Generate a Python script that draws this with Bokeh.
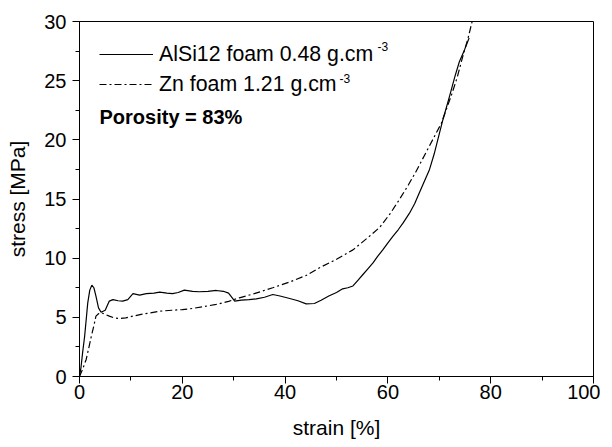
from bokeh.plotting import figure
from bokeh.models import Range1d, Legend, LegendItem, Label, FixedTicker
from bokeh.embed import file_html
from bokeh.resources import INLINE

# AlSi12 foam 0.48 g.cm-3 (solid line)
strain_al = [0, 0.3, 0.6, 1.0, 1.3, 1.6, 2.0, 2.4, 2.8, 3.2,
             3.7, 4.2, 5.0, 5.8, 6.5, 7.5, 8.4, 9.4, 10.4, 11.7,
             13.0, 14.5, 15.6, 17.0, 18.1, 19.2, 20.4, 22.0, 23.3, 25.0,
             26.6, 28.0, 29.0, 30.2, 31.5, 33.0, 34.4, 36.0, 37.6, 39.0,
             40.9, 42.5, 44.1, 45.7, 47.0, 48.5, 50.0, 51.2, 52.2, 53.2,
             54.2, 55.1, 56.1, 57.1, 58.0, 59.0, 60.0, 61.0, 62.0, 63.0,
             64.2, 65.2, 66.1, 67.1, 68.1, 69.0, 69.7, 70.7, 72.0, 73.0,
             73.9, 74.9, 75.8]
stress_al = [0, 0.8, 2.0, 3.4, 4.8, 6.2, 7.3, 7.72, 7.5, 6.8,
             5.8, 5.43, 5.6, 6.37, 6.5, 6.4, 6.37, 6.5, 7.0, 6.88,
             7.0, 7.05, 7.13, 7.05, 7.0, 7.1, 7.3, 7.2, 7.16, 7.2,
             7.27, 7.2, 7.05, 6.37, 6.45, 6.5, 6.56, 6.7, 6.93, 6.8,
             6.59, 6.4, 6.14, 6.17, 6.45, 6.8, 7.1, 7.41, 7.5, 7.65,
             8.15, 8.6, 9.1, 9.6, 10.15, 10.7, 11.3, 11.86, 12.4, 13.0,
             13.8, 14.6, 15.5, 16.5, 17.5, 18.8, 20.0, 21.7, 23.7, 25.3,
             26.6, 27.6, 28.6]

# Zn foam 1.21 g.cm-3 (dash-dot line)
strain_zn = [0, 0.6, 1.3, 1.8, 2.3, 2.8, 3.2, 3.7, 4.2, 5.0,
             5.8, 6.8, 7.8, 9.0, 10.4, 12.0, 13.5, 15.6, 18.0, 20.0,
             22.0, 24.0, 26.6, 29.0, 31.1, 34.0, 37.6, 41.0, 44.1, 46.7,
             50.0, 53.2, 56.0, 58.4, 60.5, 62.3, 64.0, 65.5, 68.1, 70.4,
             72.3, 73.5, 74.6, 75.6, 76.5, 77.0]
stress_zn = [0, 0.6, 1.44, 2.4, 3.4, 4.3, 5.1, 5.3, 5.4, 5.25,
             5.1, 4.95, 4.9, 4.95, 5.1, 5.25, 5.35, 5.52, 5.6, 5.65,
             5.75, 5.9, 6.09, 6.35, 6.65, 7.0, 7.5, 8.0, 8.54, 9.19,
             9.9, 10.7, 11.7, 12.6, 13.8, 15.0, 16.2, 17.35, 19.5, 21.4,
             23.7, 25.3, 27.1, 28.6, 30.2, 31.0]

x_major = [0, 20, 40, 60, 80, 100]
x_minor = [0, 10, 20, 30, 40, 50, 60, 70, 80, 90, 100]
y_major = [0, 5, 10, 15, 20, 25, 30]
y_minor = [0, 2.5, 5, 7.5, 10, 12.5, 15, 17.5, 20, 22.5, 25, 27.5, 30]

label_al = "AlSi12 foam 0.48 g.cm"
label_zn = "Zn foam 1.21 g.cm"
sup_text = "-3"
note_text = "Porosity = 83%"

FONT = "Liberation Sans"

p = figure(width=600, height=444, output_backend="svg", toolbar_location=None,
           x_range=Range1d(0, 100), y_range=Range1d(0, 30),
           min_border_left=79, min_border_right=7, min_border_top=21,
           min_border_bottom=68,
           x_axis_label="strain [%]", y_axis_label="stress [MPa]")
p.grid.visible = False
p.outline_line_color = "black"
p.outline_line_width = 1
p.background_fill_color = "white"
p.border_fill_color = "white"

p.xaxis.ticker = FixedTicker(ticks=x_major, minor_ticks=x_minor)
p.yaxis.ticker = FixedTicker(ticks=y_major, minor_ticks=y_minor)

for ax in (p.xaxis[0], p.yaxis[0]):
    ax.axis_line_color = "black"
    ax.major_tick_line_color = "black"
    ax.minor_tick_line_color = "black"
    ax.major_tick_in = 0
    ax.major_tick_out = 7
    ax.minor_tick_in = 0
    ax.minor_tick_out = 4
    ax.major_label_text_font = FONT
    ax.major_label_text_font_size = "20px"
    ax.major_label_text_color = "black"
    ax.axis_label_text_font = FONT
    ax.axis_label_text_font_size = "21px"
    ax.axis_label_text_font_style = "normal"
    ax.axis_label_text_color = "black"

p.xaxis.major_label_standoff = 1
p.xaxis.axis_label_standoff = 14
p.yaxis.major_label_standoff = 6
p.yaxis.axis_label_standoff = 12

r_al = p.line(strain_al, stress_al, line_color="black", line_width=1.2)
r_zn = p.line(strain_zn, stress_zn, line_color="black", line_width=1.2,
              line_dash="7 3 2 3")

legend = Legend(items=[LegendItem(label=label_al, renderers=[r_al]),
                       LegendItem(label=label_zn, renderers=[r_zn])],
                location=(20, 277), glyph_width=54, glyph_height=30,
                label_height=30, spacing=0, padding=0, margin=0,
                label_standoff=6, border_line_color=None,
                background_fill_alpha=0,
                label_text_font=FONT, label_text_font_size="21.3px",
                label_text_color="black")
p.add_layout(legend)

p.add_layout(Label(x=298, y=330, x_units="screen", y_units="screen",
                   text=sup_text, text_font=FONT, text_font_size="12px",
                   text_baseline="middle", text_color="black"))
p.add_layout(Label(x=260, y=298, x_units="screen", y_units="screen",
                   text=sup_text, text_font=FONT, text_font_size="12px",
                   text_baseline="middle", text_color="black"))
p.add_layout(Label(x=20, y=260, x_units="screen", y_units="screen",
                   text=note_text, text_font=FONT, text_font_size="20px",
                   text_font_style="bold", text_baseline="middle",
                   text_color="black"))

open("out.html", "w").write(file_html(p, INLINE))
